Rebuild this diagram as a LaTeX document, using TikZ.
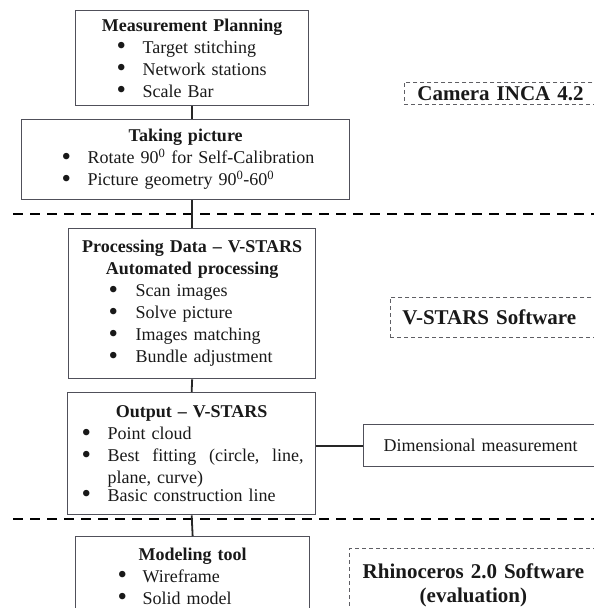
\documentclass[tikz,border=0pt]{standalone}
\usepackage{fontspec}
\setmainfont{Liberation Serif}
\usetikzlibrary{positioning}

\definecolor{edgegray}{RGB}{80,80,90}
\definecolor{toolgray}{RGB}{95,95,100}

% bullet line: indent, bullet box width, text
\newcommand{\bigdot}{\smash{\raisebox{-1.6pt}{\scalebox{1.5}{\textbullet}}}}
\newcommand{\bitem}[3]{\hspace*{#1}\makebox[#2][l]{\bigdot}#3}

\begin{document}
\begin{tikzpicture}[x=1pt, y=-1pt,
                    every node/.style={font=\fontsize{18}{22}\selectfont, text=black!90},
                    block/.style={rectangle, draw=edgegray, line width=1.3pt, anchor=north west, inner xsep=0pt, inner ysep=0pt, align=left},
                    tool/.style={rectangle, draw=toolgray, line width=0.8pt, dash pattern=on 4pt off 3pt, anchor=north west, align=left, font=\fontsize{21}{24}\selectfont\bfseries},
                    phase line/.style={line width=2pt, dash pattern=on 10pt off 7pt},
                    link/.style={draw=black!85, line width=1.8pt}]

  \useasboundingbox (0,0) rectangle (594,608);
  \clip (0,0) rectangle (594,608);

  % phase separators
  \draw[phase line] (13,214) -- (594,214);
  \draw[phase line] (13,519) -- (594,519);

  % work flow
  \node[block, text width=233pt, minimum height=95pt] (plan) at (75,10)
       {\makebox[233pt]{\textbf{Measurement Planning}}\\
        \bitem{41pt}{26pt}{Target stitching}\\
        \bitem{41pt}{26pt}{Network stations}\\
        \bitem{41pt}{26pt}{Scale Bar}};
  \node[block, text width=328pt, minimum height=80pt] (photo) at (21,119)
       {\makebox[328pt]{\textbf{Taking picture}}\\
        \bitem{40pt}{26pt}{Rotate 90\textsuperscript{0} for Self-Calibration}\\
        \bitem{40pt}{26pt}{Picture geometry 90\textsuperscript{0}-60\textsuperscript{0}}};
  \node[block, text width=247pt, minimum height=150pt] (process) at (68,228)
       {\makebox[247pt]{\textbf{Processing Data -- V-STARS}}\\
        \makebox[247pt]{\textbf{Automated processing}}\\
        \bitem{40pt}{27pt}{Scan images}\\
        \bitem{40pt}{27pt}{Solve picture}\\
        \bitem{40pt}{27pt}{Images matching}\\
        \bitem{40pt}{27pt}{Bundle adjustment}};
  \node[block, text width=248pt, minimum height=122pt] (output) at (67,392)
       {\makebox[248pt]{\textbf{Output -- V-STARS}}\\
        \bitem{14pt}{26pt}{Point cloud}\\
        \bitem{14pt}{26pt}{\parbox[t]{196pt}{Best\hfill fitting\hfill (circle,\hfill line,\\ plane, curve)}}\\
        \bitem{14pt}{26pt}{Basic construction line}};
  \node[block, text width=240pt, minimum height=42pt] (dim) at (363,424)
       {\hspace*{20pt}Dimensional measurement};
  \node[block, text width=234pt, inner ysep=11pt] (model) at (75,536)
       {\makebox[234pt]{\textbf{Modeling tool}}\\
        \bitem{42pt}{25pt}{Wireframe}\\
        \bitem{42pt}{25pt}{Solid model}};

  % software labels
  \node[tool, text width=176pt, minimum height=22pt, inner xsep=13pt, inner ysep=0pt] (inca) at (404,82) {Camera INCA 4.2};
  \node[tool, text width=200pt, minimum height=40pt, inner xsep=12pt, inner ysep=0pt] (vstars) at (390,297) {V-STARS Software};
  \node[tool, text width=248pt, inner xsep=0pt, inner ysep=15pt, align=center] (rhino) at (349,548) {Rhinoceros 2.0 Software\\(evaluation)};

  % connectors
  \draw[link] (plan.south) -- (plan.south |- photo.north);
  \draw[link] (process.north |- photo.south) -- (process.north);
  \draw[link] (process.south) -- (output.north);
  \draw[link] (output.south) -- (model.north);
  \draw[link] (dim.west -| output.east) -- (dim.west);

\end{tikzpicture}
\end{document}
